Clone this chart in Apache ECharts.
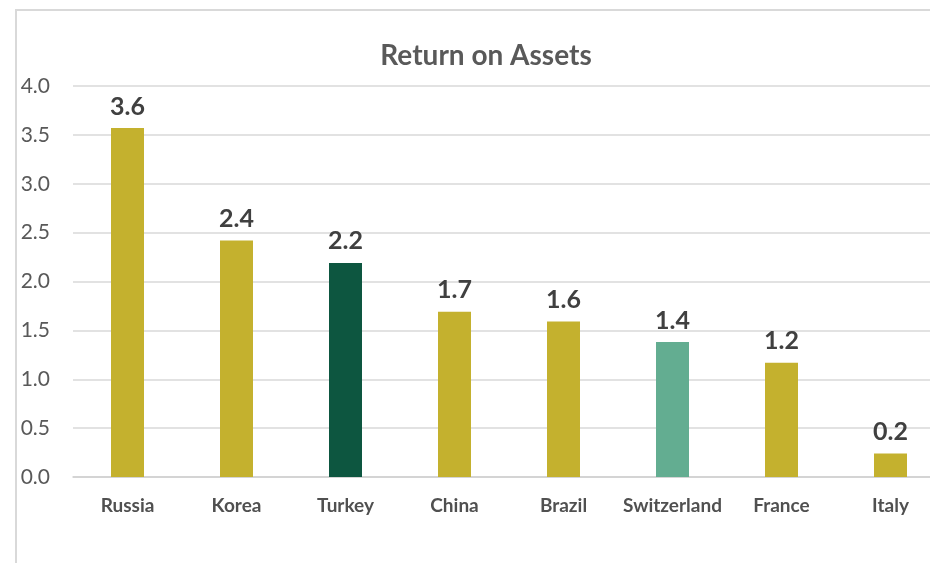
<!DOCTYPE html>
<html>
<head>
    <meta charset="utf-8">
    <script src="https://cdn.jsdelivr.net/npm/echarts@6/dist/echarts.min.js"></script>
    <style>
        html, body { margin: 0; padding: 0; background: #fff; }
    </style>
</head>
<body>
    <div id="main" style="width: 930px;height:563px;"></div>
    <script type="text/javascript">
        // data
        var countries = ['Russia', 'Korea', 'Turkey', 'China', 'Brazil', 'Switzerland', 'France', 'Italy'];
        var roa = [3.57, 2.42, 2.19, 1.69, 1.59, 1.38, 1.17, 0.24];
        var yTicks = ['0.0', '0.5', '1.0', '1.5', '2.0', '2.5', '3.0', '3.5', '4.0'];

        // bar colours (Turkey and Switzerland highlighted)
        var gold = '#c4b12e';
        var barColors = [gold, gold, '#0d5640', gold, gold, '#63ad91', gold, gold];

        var barData = roa.map(function (v, i) {
            return { value: v, itemStyle: { color: barColors[i] } };
        });

        var option = {
            backgroundColor: '#fff',
            textStyle: { fontFamily: 'Lato, "Noto Sans", sans-serif' },
            title: {
                text: 'Return on Assets',
                left: 481,
                top: 37,
                textAlign: 'center',
                textStyle: { color: '#595959', fontSize: 28, fontWeight: 'bold', fontFamily: 'Lato, sans-serif' }
            },
            graphic: [{
                type: 'rect',
                shape: { x: 16, y: 10, width: 940, height: 620 },
                style: { fill: 'none', stroke: '#d9d9d9', lineWidth: 2 },
                silent: true,
                z: -1
            }],
            // plot runs past the right edge, as in the cropped original
            grid: { left: 73, width: 872, top: 86, bottom: 86, outerBoundsMode: 'none' },
            xAxis: {
                type: 'category',
                data: countries,
                axisLine: { lineStyle: { color: '#d0d0d0', width: 1.5 } },
                axisTick: { show: false },
                axisLabel: { color: '#505050', fontSize: 19, fontWeight: 'bold', margin: 19, interval: 0 }
            },
            yAxis: {
                type: 'value',
                min: 0,
                max: 4,
                interval: 0.5,
                axisLine: { show: false },
                axisTick: { show: false },
                splitLine: { lineStyle: { color: '#d9d9d9', width: 1.5 } },
                axisLabel: {
                    color: '#595959',
                    fontSize: 21,
                    margin: 23,
                    formatter: function (v) { return yTicks[Math.round(v / 0.5)]; }
                }
            },
            series: [{
                name: 'Return on Assets',
                type: 'bar',
                barWidth: 33,
                data: barData,
                label: {
                    show: true,
                    position: 'top',
                    distance: 9,
                    color: '#404040',
                    fontSize: 25,
                    fontWeight: 'bold',
                    formatter: function (p) { return p.value.toFixed(1); }
                }
            }]
        };

        var myChart = echarts.init(document.getElementById('main'));
        myChart.setOption(option);
    </script>
</body>
</html>
